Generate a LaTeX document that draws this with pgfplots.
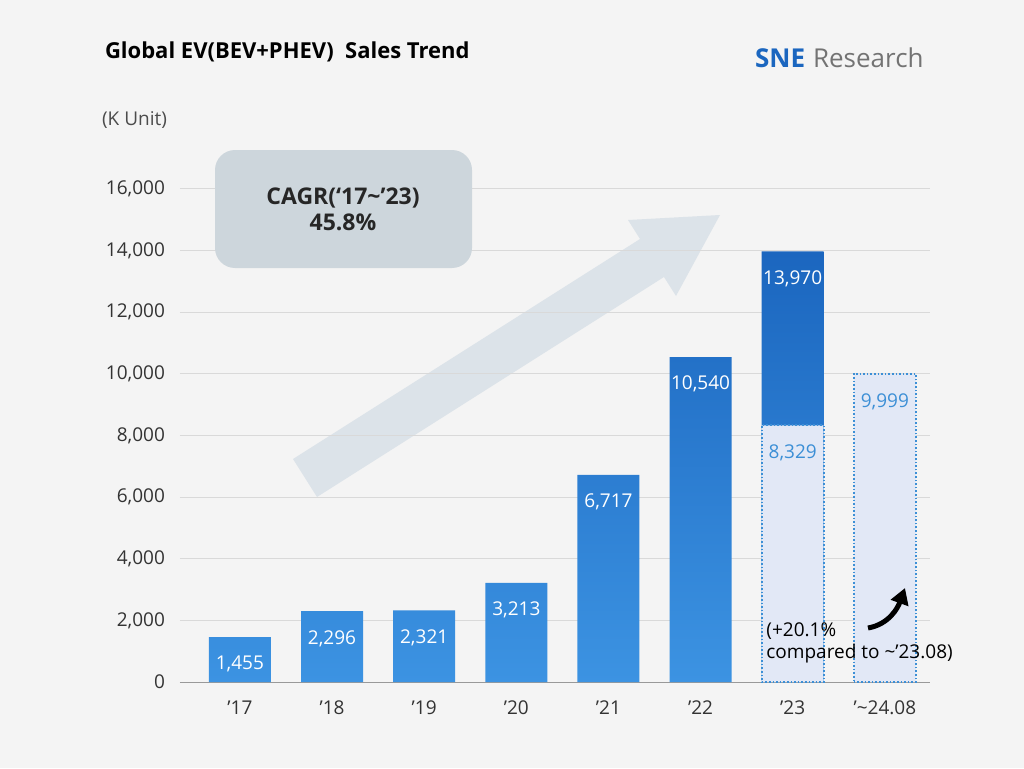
\documentclass[border=0pt]{standalone}
\usepackage{pgfplots}
\pgfplotsset{compat=1.18}
\usepackage{fontspec}
\setmainfont{Open Sans}
\usetikzlibrary{arrows.meta}
\definecolor{bartop}{HTML}{1B66BF}
\definecolor{barbot}{HTML}{3C93E2}
\definecolor{lightbox}{HTML}{E2E8F6}
\definecolor{dotc}{HTML}{3C8FD6}
\definecolor{bg}{HTML}{F4F4F4}
\definecolor{cagr}{HTML}{CDD6DC}
\definecolor{arr}{HTML}{DCE3E9}
\begin{document}
\begin{tikzpicture}[x=0.5pt,y=0.5pt]
\fill[bg] (0,0) rectangle (1024,768);
\node[anchor=west,font=\bfseries\fontsize{11}{13}\selectfont] at (98,716) {Global EV(BEV+PHEV)\ \ Sales Trend};
\node[anchor=west,font=\fontsize{9.5}{11}\selectfont,text=black!70] at (95,648) {(K Unit)};
\node[anchor=west,font=\fontsize{13}{15}\selectfont] at (748,710) {\textcolor{bartop}{\textbf{SNE}}\hspace{4pt}\textcolor{black!55}{Research}};
% arrow (behind bars)
\fill[arr] (293,309) -- (640,529) -- (628,548) -- (720,553) -- (676,472) -- (664,491) -- (317,271) -- cycle;
\begin{axis}[at={(90pt,43pt)},anchor=south west,
  width=375pt,height=262pt,scale only axis,
  xmin=-0.65,xmax=7.49,ymin=0,ymax=17000,
  axis line style={draw=none},
  x axis line style={draw=black!40},
  axis x line*=bottom,
  ytick={0,2000,...,16000},
  ymajorgrids, grid style={black!15},
  major tick length=0pt,
  xtick={0,...,7},
  xticklabels={'17,'18,'19,'20,'21,'22,'23,'\textasciitilde24.08},
  scaled y ticks=false,
  yticklabel style={/pgf/number format/1000 sep={,}},
  /pgf/number format/assume math mode=true,
  ticklabel style={font=\fontsize{9.5}{11}\selectfont,text=black!80},
  xticklabel style={yshift=-6pt},
  yticklabel style={xshift=-4pt},
  clip=false,
  ybar, bar width=31pt, bar shift=0pt,
]
\addplot[draw=none,top color=bartop,bottom color=barbot,
  nodes near coords,nodes near coords style={text=white,anchor=north,yshift=-6pt,font=\fontsize{9.5}{11}\selectfont,/pgf/number format/1000 sep={,}}]
  coordinates {(0,1455)(1,2296)(2,2321)(3,3213)(4,6717)(5,10540)(6,13970)};
\addplot[draw=dotc,densely dotted,thick,fill=lightbox,
  nodes near coords,nodes near coords style={text=dotc,anchor=north,yshift=-6pt,font=\fontsize{9.5}{11}\selectfont,/pgf/number format/1000 sep={,}}]
  coordinates {(6,8329)(7,9999)};
\end{axis}
\fill[rounded corners=10pt,fill=cagr] (215,500) rectangle (472,618);
\node[align=center,font=\bfseries\fontsize{11.5}{13}\selectfont,text=black!85] at (343,559) {CAGR(‘17\textasciitilde’23)\\45.8\%};
\node[anchor=west,align=left,font=\fontsize{9.5}{11}\selectfont,inner sep=0pt] at (766,125) {(+20.1\%\\compared to \textasciitilde’23.08)};
\draw[line width=2.5pt,-{Triangle[length=8pt,width=9pt]}] (868,140) to[out=10,in=250] (905,180);
\end{tikzpicture}
\end{document}
